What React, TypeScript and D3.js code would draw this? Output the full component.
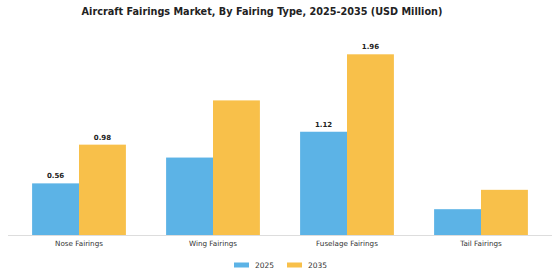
import React from 'react';
import * as d3 from "d3";

const categories = ["Nose Fairings", "Wing Fairings", "Fuselage Fairings", "Tail Fairings"];
const years = ["2025", "2035"];
const values2025 = [0.56, 0.84, 1.12, 0.28];
const values2035 = [0.98, 1.46, 1.96, 0.49];
// only some bars carry a value label in the original
const labelled = ["Nose Fairings", "Fuselage Fairings"];

const colors = { "2025": "#5cb3e6", "2035": "#f8c04a" };

const width = 560;
const height = 280;
const baseline = 235;

export default function App() {
  const x = d3.scaleBand()
    .domain(categories)
    .range([12, 548])
    .paddingInner(0.3)
    .paddingOuter(0.15);

  const xSub = d3.scaleBand()
    .domain(years)
    .range([0, x.bandwidth()]);

  const y = d3.scaleLinear()
    .domain([0, 1.96])
    .range([baseline, 54.3]);

  const series = { "2025": values2025, "2035": values2035 };

  return (
    <svg width={width} height={height} style={{ position: "absolute", left: 0, top: 0 }}
      fontFamily="DejaVu Sans">
      <rect width={width} height={height} fill="#fff" />
      <text x={262} y={14.5} textAnchor="middle" fontSize={9.7} fontWeight="bold" fill="#222">
        Aircraft Fairings Market, By Fairing Type, 2025-2035 (USD Million)
      </text>

      {categories.map((c, i) => (
        <g key={c} transform={`translate(${x(c)},0)`}>
          {years.map(yr => {
            const v = series[yr][i];
            return (
              <g key={yr}>
                <rect x={xSub(yr)} y={y(v)} width={xSub.bandwidth()} height={baseline - y(v)}
                  fill={colors[yr]} />
                {labelled.includes(c) && (
                  <text x={xSub(yr) + xSub.bandwidth() / 2} y={y(v) - 5} textAnchor="middle"
                    fontSize={7} fontWeight="bold" fill="#222">
                    {v.toFixed(2)}
                  </text>
                )}
              </g>
            );
          })}
          <text x={x.bandwidth() / 2} y={245.5} textAnchor="middle" fontSize={7.2} fill="#333">{c}</text>
        </g>
      ))}

      <line x1={8} x2={552} y1={baseline + 0.5} y2={baseline + 0.5} stroke="#ddd" strokeWidth={1} />

      {years.map((yr, i) => (
        <g key={yr} transform={`translate(${234 + i * 53},0)`}>
          <rect x={0} y={262.5} width={15} height={5} fill={colors[yr]} />
          <text x={21} y={267.5} fontSize={7.5} fill="#333">{yr}</text>
        </g>
      ))}
    </svg>
  );
}
